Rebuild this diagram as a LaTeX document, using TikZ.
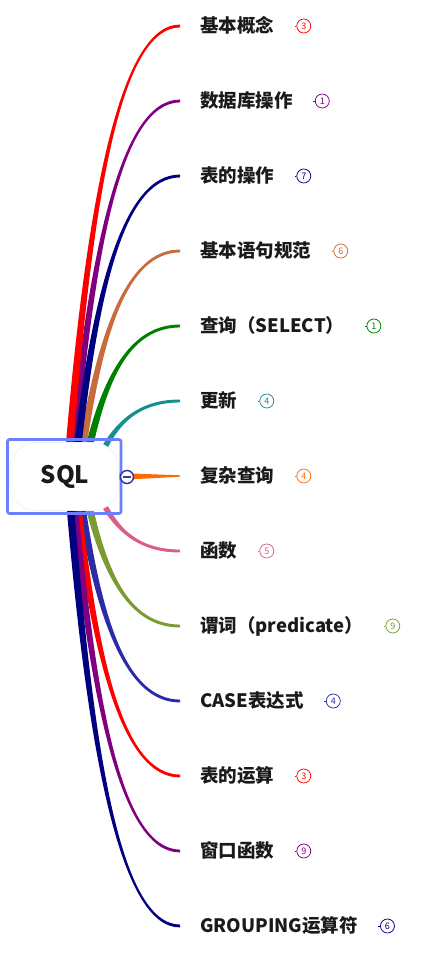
\documentclass[tikz,border=0pt]{standalone}
\usepackage{fontspec}
\setmainfont{Noto Sans CJK SC}
\usetikzlibrary{calc}
\definecolor{cRed}{HTML}{FF0000}
\definecolor{cPurple}{HTML}{800080}
\definecolor{cNavy}{HTML}{000080}
\definecolor{cBrown}{HTML}{C96B3C}
\definecolor{cGreen}{HTML}{008000}
\definecolor{cTeal}{HTML}{15908A}
\definecolor{cOrange}{HTML}{FF6A00}
\definecolor{cPink}{HTML}{DB5B8A}
\definecolor{cOlive}{HTML}{7B9A32}
\definecolor{cBlue}{HTML}{2B2BA6}
\definecolor{cBox}{HTML}{6B80FF}
\definecolor{cBtn}{HTML}{3535A5}
\definecolor{cText}{HTML}{1A1A1A}
\newcommand\branch[4]{%
  \coordinate (#1m1) at ($(#1)!0.18!(#2)$);
  \coordinate (#1m2) at ($(#1)!0.58!(#2)$);
  \coordinate (#1p) at (#1m1 |- #1m2);
  \coordinate (#1m3) at ($(#1)!0.45!(#2)$);
  \coordinate (#1q) at (#1m3 |- #2);
  \fill[#3] ([xshift=-3.8pt]#1) .. controls ([xshift=-3.0pt]#1p) and ([yshift={(#4)*2.0pt}]#1q) .. ([yshift={(#4)*1.4pt}]#2)
    -- ([yshift={-(#4)*1.4pt}]#2) .. controls ([yshift={-(#4)*2.0pt}]#1q) and ([xshift=3.0pt]#1p) .. ([xshift=3.8pt]#1) -- cycle;
}
\begin{document}
\begin{tikzpicture}[x=1pt,y=-1pt,
  lbl/.style={anchor=west,inner sep=0pt,text height=13.9pt,text depth=0pt,font=\fontsize{18.5}{21}\selectfont\bfseries,text=cText},
  badge/.style={circle,draw=#1,text=#1,line width=0.75pt,minimum size=14pt,inner sep=0pt,anchor=west,font=\fontsize{9}{10}\selectfont,fill=white},
  tick/.style={draw=#1,line width=0.8pt}]
\useasboundingbox (0,0) rectangle (423,959);
% labels
\node[lbl] (t1) at (200,26) {基本概念};
\node[lbl] (t2) at (200,101) {数据库操作};
\node[lbl] (t3) at (200,176) {表的操作};
\node[lbl] (t4) at (200,251) {基本语句规范};
\node[lbl] (t5) at (200,326) {查询（SELECT）};
\node[lbl] (t6) at (200,401) {更新};
\node[lbl] (t7) at (200,476) {复杂查询};
\node[lbl] (t8) at (200,551) {函数};
\node[lbl] (t9) at (200,626) {谓词（predicate）};
\node[lbl] (t10) at (200,701) {CASE表达式};
\node[lbl] (t11) at (200,776) {表的运算};
\node[lbl] (t12) at (200,851) {窗口函数};
\node[lbl] (t13) at (200,926) {GROUPING运算符};
% badges
\foreach \i/\n/\c in {1/3/cRed,2/1/cPurple,3/7/cNavy,4/6/cBrown,5/1/cGreen,6/4/cTeal,7/4/cOrange,8/5/cPink,9/9/cOlive,10/4/cBlue,11/3/cRed,12/9/cPurple,13/6/cNavy}{
  \node[badge=\c] (b\i) at ([xshift=22pt]t\i.east) {\n};
  \draw[tick=\c] ([xshift=-1.6pt]b\i.west) -- (b\i.west);
}
% connector end points
\foreach \i/\y in {1/26,2/101,3/176,4/251,5/326,6/401,7/476,8/551,9/626,10/701,11/776,12/851,13/926}{
  \coordinate (e\i) at (180,\y);
}
% start points
\coordinate (s1) at (69,452);
\coordinate (s2) at (73,452);
\coordinate (s3) at (77,452);
\coordinate (s4) at (82,452);
\coordinate (s5) at (88,452);
\coordinate (s6) at (96,466);
\coordinate (s8) at (96,488);
\coordinate (s9) at (88,502);
\coordinate (s10) at (81,502);
\coordinate (s11) at (77,502);
\coordinate (s12) at (74,502);
\coordinate (s13) at (70,502);
\branch{s6}{e6}{cTeal}{1}
\branch{s5}{e5}{cGreen}{1}
\branch{s4}{e4}{cBrown}{1}
\branch{s2}{e2}{cPurple}{1}
\branch{s3}{e3}{cNavy}{1}
\branch{s1}{e1}{cRed}{1}
\branch{s8}{e8}{cPink}{-1}
\branch{s9}{e9}{cOlive}{-1}
\branch{s10}{e10}{cBlue}{-1}
\branch{s11}{e11}{cRed}{-1}
\branch{s12}{e12}{cPurple}{-1}
\branch{s13}{e13}{cNavy}{-1}
% orange straight tapered branch
\coordinate (s7) at (118,476.5);
\fill[cOrange] ([yshift=3.5pt]s7) -- ([yshift=0.7pt]e7) -- ([yshift=-0.7pt]e7) -- ([yshift=-3.5pt]s7) -- cycle;
% root
\node[fill=white,draw=black!6,line width=0.6pt,rounded corners=26pt,minimum width=109pt,minimum height=68pt,inner sep=0pt] (rootbg) at (64.5,476.5) {};
\node[font=\fontsize{24}{26}\selectfont\bfseries,text=cText,inner sep=0pt] (root) at (65,477) {SQL};
\node[draw=cBox,line width=2.6pt,rounded corners=2pt,minimum width=113.5pt,minimum height=74pt,inner sep=0pt] (rootbox) at (64.25,476.5) {};
% collapse button
\node[circle,draw=cBtn,fill=white,line width=1.5pt,minimum size=13pt,inner sep=0pt] (btn) at (127,477) {};
\draw[cBtn,line width=1.5pt] ([xshift=-3.6pt]btn.center) -- ([xshift=3.6pt]btn.center);
\end{tikzpicture}
\end{document}
